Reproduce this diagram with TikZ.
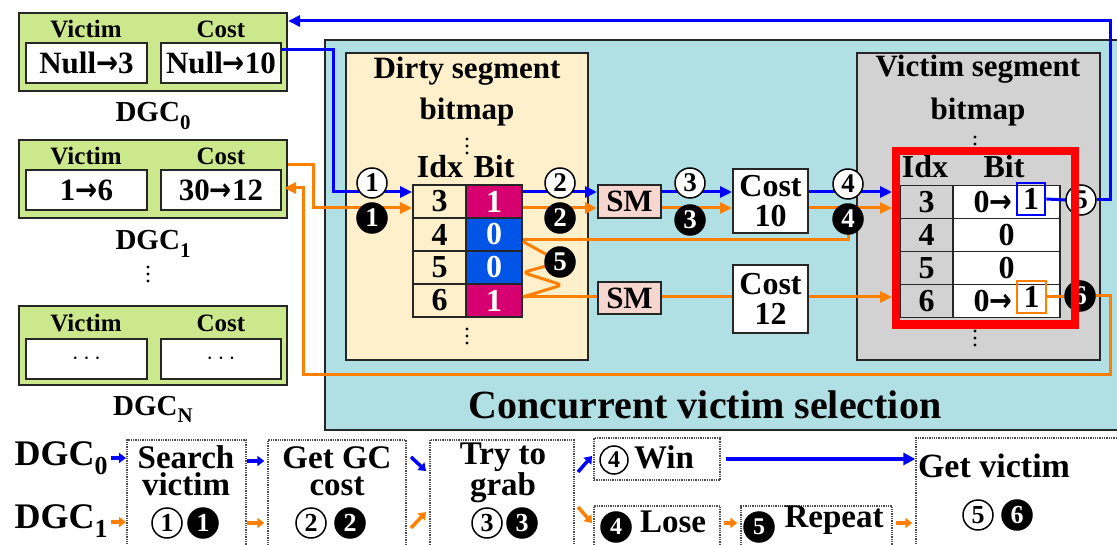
\documentclass[tikz,border=0pt]{standalone}
\usepackage{fontspec}
\setmainfont{Liberation Serif}
\newfontfamily\djv{DejaVu Sans}
\usetikzlibrary{arrows.meta,calc}
\definecolor{dgcg}{RGB}{204,232,140}
\definecolor{tealbg}{RGB}{176,224,228}
\definecolor{dirtybg}{RGB}{255,240,204}
\definecolor{vgray}{RGB}{210,210,210}
\definecolor{smpink}{RGB}{248,214,208}
\definecolor{magc}{RGB}{214,0,112}
\definecolor{cblue}{RGB}{0,85,230}
\definecolor{lblue}{RGB}{0,0,255}
\definecolor{lorange}{RGB}{255,128,0}
\definecolor{redb}{RGB}{255,0,0}
\newcommand\myfs[1]{\fontsize{#1}{#1}\selectfont\bfseries}
\newcommand\mysub[1]{\raisebox{-0.25em}{\scalebox{0.72}{#1}}}
\newcommand\arr{\scalebox{0.85}[1]{\djv\bfseries →}}
\newcommand\vdotsat[2]{\fill (#1,#2-7) circle (1.7pt) (#1,#2) circle (1.7pt) (#1,#2+7) circle (1.7pt);}
\begin{document}
\begin{tikzpicture}[x=1pt,y=-1pt,
  box/.style={draw=black!85,line width=2.2pt,inner sep=0pt},
  wbox/.style={draw=black!85,line width=2pt,fill=white,minimum width=121pt,minimum height=40pt,inner sep=0pt,font=\myfs{31}},
  txt/.style={inner sep=0pt,anchor=base,font=\myfs{#1}},
  two/.style={inner sep=0pt,align=center,font={\fontsize{33}{27}\selectfont\bfseries}},
  cell/.style={draw=black!85,line width=1.8pt,minimum height=33pt,inner sep=0pt,font=\myfs{32}},
  wc/.style={circle,draw=black,line width=1.5pt,fill=white,minimum size=30pt,inner sep=0pt,font=\myfs{27}},
  bc/.style={circle,draw=black,line width=1.5pt,fill=black,text=white,minimum size=30pt,inner sep=0pt,font=\myfs{27}},
  bl/.style={draw=lblue,line width=3pt},
  ol/.style={draw=lorange,line width=3pt},
  tip/.style={-{Triangle[length=12pt,width=11pt]}},
  stip/.style={line width=3.5pt,-{Triangle[length=7pt,width=10pt]}},
  dbox/.style={draw=black!70,line width=1.3pt,densely dotted},
  smbox/.style={draw=black!85,line width=2pt,fill=smpink,minimum width=63pt,minimum height=33pt,inner sep=0pt,font=\myfs{31}},
  costbox/.style={draw=black!85,line width=2pt,fill=white,minimum width=75pt,inner sep=0pt,font=\myfs{32},align=center}
]
\useasboundingbox (0,0) rectangle (1117,545);
\clip (0,0) rectangle (1117,545);

% ---------- DGC boxes (left) ----------
\node[box,fill=dgcg,minimum width=268pt,minimum height=78pt] (g0) at (153,52) {};
\node[txt=25] (g0v) at (86,38) {Victim};
\node[txt=25] (g0c) at (221,38) {Cost};
\node[wbox] (v0) at (86.5,63) {Null\arr3};
\node[wbox,minimum width=120pt] (c0) at (221,63) {Null\arr10};
\node[txt=29] (l0) at (153,122) {DGC\mysub{0}};

\node[box,fill=dgcg,minimum width=268pt,minimum height=78pt] (g1) at (153,179) {};
\node[txt=25] (g1v) at (86,165) {Victim};
\node[txt=25] (g1c) at (221,165) {Cost};
\node[wbox] (v1) at (86.5,190) {1\arr6};
\node[wbox,minimum width=120pt] (c1) at (221,190) {30\arr12};
\node[txt=29] (l1) at (153,250) {DGC\mysub{1}};
\vdotsat{148}{274}

\node[box,fill=dgcg,minimum width=268pt,minimum height=79pt] (gn) at (153,345.5) {};
\node[txt=25] (gnv) at (86,332) {Victim};
\node[txt=25] (gnc) at (221,332) {Cost};
\node[wbox] (vn) at (86.5,359) {$\cdots$};
\node[wbox,minimum width=120pt] (cn) at (221,359) {$\cdots$};
\node[txt=29] (ln) at (153,415) {DGC\mysub{N}};

% ---------- Concurrent victim selection ----------
\node[box,fill=tealbg,minimum width=800pt,minimum height=390pt] (cvs) at (725,235) {};
\node[txt=40] (cvst) at (705,418) {Concurrent victim selection};

% Dirty segment bitmap
\node[box,fill=dirtybg,minimum width=242pt,minimum height=307pt] (dsb) at (467,206.5) {};
\node[txt=31] (dsbt1) at (467,79) {Dirty segment};
\node[txt=31] (dsbt2) at (467,120) {bitmap};
\vdotsat{467}{146}
\node[txt=32] (dih) at (440,178) {Idx};
\node[txt=32] (dbh) at (494,178) {Bit};
\node[cell,minimum width=53pt] (di3) at (439.5,201.5) {3};
\node[cell,minimum width=56pt,fill=magc,text=white] (db3) at (494,201.5) {1};
\node[cell,minimum width=53pt] (di4) at (439.5,234.5) {4};
\node[cell,minimum width=56pt,fill=cblue,text=white] (db4) at (494,234.5) {0};
\node[cell,minimum width=53pt] (di5) at (439.5,267.5) {5};
\node[cell,minimum width=56pt,fill=cblue,text=white] (db5) at (494,267.5) {0};
\node[cell,minimum width=53pt] (di6) at (439.5,300.5) {6};
\node[cell,minimum width=56pt,fill=magc,text=white] (db6) at (494,300.5) {1};
\vdotsat{467}{336}

% Victim segment bitmap
\node[box,fill=vgray,minimum width=243pt,minimum height=307pt] (vsb) at (978.5,206.5) {};
\node[txt=31] (vsbt1) at (978,77) {Victim segment};
\node[txt=31] (vsbt2) at (978,120) {bitmap};
\vdotsat{975}{144}
\node[txt=32] (vih) at (925,178) {Idx};
\node[txt=32] (vbh) at (1004,178) {Bit};
\node[cell,minimum width=53pt] (vi3) at (926.5,202) {3};
\node[cell,minimum width=107pt,fill=white] (vb3) at (1006.5,202) {};
\node[cell,minimum width=53pt] (vi4) at (926.5,235) {4};
\node[cell,minimum width=107pt,fill=white] (vb4) at (1006.5,235) {0};
\node[cell,minimum width=53pt] (vi5) at (926.5,268) {5};
\node[cell,minimum width=107pt,fill=white] (vb5) at (1006.5,268) {0};
\node[cell,minimum width=53pt] (vi6) at (926.5,301) {6};
\node[cell,minimum width=107pt,fill=white] (vb6) at (1006.5,301) {};
\node[inner sep=0pt,font=\myfs{32}] (v3a) at (993,202) {0\arr};
\node[draw=lblue,line width=2.8pt,minimum width=28pt,minimum height=32pt,inner sep=0pt,font=\myfs{32}] (bsq) at (1031,199) {1};
\node[inner sep=0pt,font=\myfs{32}] (v6a) at (993,301) {0\arr};
\node[draw=lorange,line width=2.8pt,minimum width=29pt,minimum height=32pt,inner sep=0pt,font=\myfs{32}] (osq) at (1031.5,297) {1};
\vdotsat{975}{338}

% SM and Cost boxes
\node[smbox] (sm1) at (629.5,201.5) {SM};
\node[smbox,minimum height=32pt] (sm2) at (629.5,298) {SM};
\node[costbox,minimum height=64pt] (cost10) at (770.5,201) {Cost\\[-2pt]10};
\node[costbox,minimum height=68pt] (cost12) at (770.5,299) {Cost\\[-2pt]12};

% ---------- helper coordinates ----------
\coordinate (hB) at (0,192);
\coordinate (hO) at (0,208);
\coordinate (hR) at (0,297);
\coordinate (y50) at (0,50);
\coordinate (y165) at (0,165);
\coordinate (y240) at (0,240);
\coordinate (k1) at (333,192);
\coordinate (k2) at (313,208);
\coordinate (k3) at (1110,21);
\coordinate (k4) at (1110,375);
\coordinate (k5) at (303,188);
\coordinate (k6) at (562,285);
\coordinate (vin) at (892,0);

% ---------- connectors ----------
\draw[bl,tip] (c0.east |- y50) -| (k1) -- (di3.west |- hB);
\draw[ol,tip] (g1.east |- y165) -| (k2) -- (di3.west |- hO);
\draw[bl,tip] (db3.east |- hB) -- (sm1.west |- hB);
\draw[ol,tip] (db3.east |- hO) -- (sm1.west |- hO);
\draw[bl,tip] (sm1.east |- hB) -- (cost10.west |- hB);
\draw[ol,tip] (sm1.east |- hO) -- (cost10.west |- hO);
\draw[bl,tip] (cost10.east |- hB) -- (vin |- hB);
\draw[ol,tip] (cost10.east |- hO) -- (vin |- hO);
\draw[ol] (848,219) |- (db4.east |- y240);
\draw[ol,line join=round,rounded corners=5pt] ($(db4.east)+(0,7)$) -- (560,262) -- ($(db5.east)+(0,5)$) -- (k6) -- (db6.east |- hR);
\draw[ol] (db6.east |- hR) -- (sm2.west |- hR);
\draw[ol] (sm2.east |- hR) -- (cost12.west |- hR);
\draw[ol,tip] (cost12.east |- hR) -- (vin |- hR);
\draw[bl] (bsq.east) -- (1066,200);
\draw[ol] (osq.east) -- (1065,297);

% circles
\node[wc] (c1w) at (372,183) {1};
\node[bc] (c1b) at (372,218) {1};
\node[wc] (c2w) at (560,183) {2};
\node[bc] (c2b) at (560,218) {2};
\node[wc] (c3w) at (690,183) {3};
\node[bc] (c3b) at (690,220) {3};
\node[wc] (c4w) at (848,184) {4};
\node[bc] (c4b) at (848,219) {4};
\node[bc] (c5b) at (560,262) {5};
\node[wc] (c5w) at (1081,200) {5};
\node[bc] (c6b) at (1080,296) {6};

% return paths
\draw[bl,tip] (c5w.east) -| (k3) -- (g0.east |- k3);
\draw[ol,tip] (c6b.east) -| (k4) -| (k5) -- ($(c1.east |- k5)+(2,0)$);

% red highlight
\node[draw=redb,line width=8.5pt,minimum width=179pt,minimum height=173.5pt,inner sep=0pt] (redr) at (985.5,237.75) {};

% ---------- bottom flow ----------
\node[txt=36] (b0) at (61,465) {DGC\mysub{0}};
\node[txt=36] (b1) at (61,528) {DGC\mysub{1}};

\node[dbox,minimum width=119pt,minimum height=112pt] (s1) at (186.5,496) {};
\node[two] (s1a) at (186,471) {Search\\victim};
\node[wc,font=\myfs{26}] (s1w) at (167,523) {1};
\node[bc,font=\myfs{26}] (s1k) at (203,523) {1};

\node[dbox,minimum width=138pt,minimum height=112pt] (s2) at (337,496) {};
\node[two] (s2a) at (337,471) {Get GC\\cost};
\node[wc,font=\myfs{26}] (s2w) at (311,523) {2};
\node[bc,font=\myfs{26}] (s2k) at (350,523) {2};

\node[dbox,minimum width=144pt,minimum height=112pt] (s3) at (502,496) {};
\node[two,font={\fontsize{33}{28}\selectfont\bfseries}] (s3a) at (503,473) {Try to\\grab};
\node[wc,font=\myfs{26}] (s3w) at (487,523) {3};
\node[bc,font=\myfs{26}] (s3k) at (522,523) {3};

\node[dbox,minimum width=126pt,minimum height=42pt] (sw) at (657,459) {};
\node[wc,font=\myfs{24},minimum size=28pt] (swc) at (614,460) {4};
\node[txt=33] (swt) at (664,468) {Win};

\node[dbox,minimum width=126pt,minimum height=44pt] (sl) at (657,528) {};
\node[bc,font=\myfs{24},minimum size=30pt] (slc) at (616,527) {4};
\node[txt=33] (slt) at (673,532) {Lose};

\node[dbox,minimum width=151pt,minimum height=44pt] (sr) at (816.5,528) {};
\node[bc,font=\myfs{24},minimum size=30pt] (src) at (759,527) {5};
\node[txt=33] (srt) at (834,527) {Repeat};

\node[dbox,minimum width=210pt,minimum height=112pt] (sg) at (1021,494) {};
\node[txt=34] (sgt) at (994,477) {Get victim};
\node[wc,font=\myfs{26}] (sgw) at (978,515) {5};
\node[bc,font=\myfs{26}] (sgk) at (1017,515) {6};

% small arrows
\draw[bl,stip] (111,458) -- (126,458);
\draw[ol,stip] (111,522) -- (126,522);
\draw[bl,stip] (s1.east |- 0,461) -- ($(s2.west |- 0,461)+(-3,0)$);
\draw[ol,stip] (s1.east |- 0,523) -- ($(s2.west |- 0,523)+(-3,0)$);
\draw[bl,stip] (411,457) -- (426,471);
\draw[ol,stip] (411,528) -- (426,512);
\draw[bl,stip] (578,472) -- (592,456);
\draw[ol,stip] (578,507) -- (592,523);
\draw[ol,stip] (sw.east |- 0,523) ++(3,0) -- ($(sr.west |- 0,523)+(-3,0)$);
\draw[ol,stip] (sr.east |- 0,523) ++(3,0) -- ($(sg.west |- 0,523)+(-3,0)$);
\draw[bl,line width=4pt,-{Triangle[length=12pt,width=12pt]}] ($(sw.east)+(5,0)$) -- (sg.west |- sw.east);
\end{tikzpicture}
\end{document}
